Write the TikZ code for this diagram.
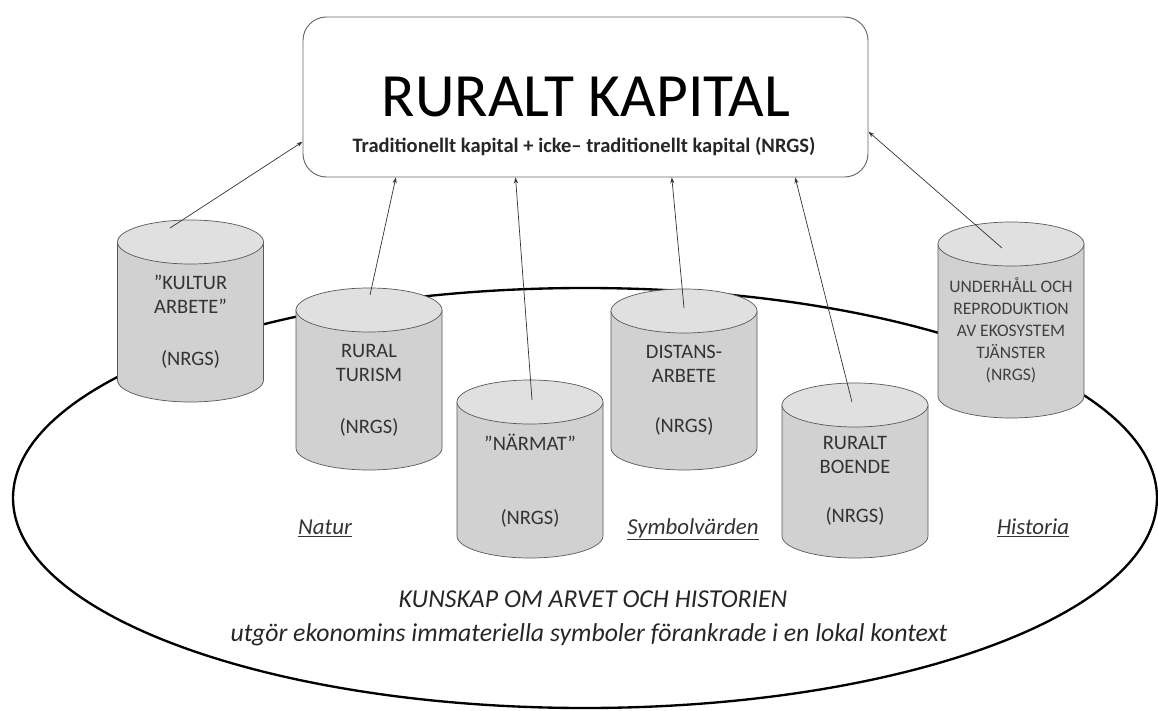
\documentclass[tikz,border=0pt]{standalone}
\usepackage{fontspec}
\setmainfont{Carlito}
\usetikzlibrary{arrows.meta}

\definecolor{tunnagra}{gray}{0.82}
\definecolor{tunnaljus}{gray}{0.88}

\tikzset{
  kapbox/.style={draw=black!60, line width=0.8pt, rounded corners=20pt,
    minimum width=16.95cm, minimum height=4.8cm, inner sep=0pt},
  tunnatext/.style={align=center, text=black!80, font=\fontsize{17.5}{20.4}\selectfont},
  smaltext/.style={align=center, text=black!75, font=\fontsize{15}{18.7}\selectfont},
  omrade/.style={anchor=base, text=black!80, font=\itshape\fontsize{19.5}{22}\selectfont},
  kunskap/.style={anchor=base, text=black!85, font=\itshape\fontsize{22}{24}\selectfont},
  pil/.style={->, draw=black!80, line width=0.6pt},
  oval/.style={draw=black, line width=2pt}
}

% tunna: x, top y, bottom y
\newcommand{\tunna}[3]{%
  \filldraw[fill=tunnagra, draw=black!65, line width=0.6pt]
    (#1-73,#2) -- (#1-73,#3) arc[start angle=180, end angle=0, x radius=73, y radius=22]
    -- (#1+73,#2) -- cycle;
  \filldraw[fill=tunnaljus, draw=black!65, line width=0.6pt]
    (#1,#2) ellipse[x radius=73, y radius=22];
}

\begin{document}
\begin{tikzpicture}[x=0.03cm, y=-0.03cm, >={Stealth[length=5pt,width=3.5pt]}]
\useasboundingbox (0,0) rectangle (1158,711);

% the big oval
\draw[oval] (585,498) ellipse[x radius=572, y radius=210];

% top box
\node[kapbox] (kap) at (585.5,97) {};
\node[anchor=base, font=\fontsize{52.5}{56}\selectfont] (titel) at (586,117) {RURALT KAPITAL};
\node[anchor=base, font=\bfseries\fontsize{17.5}{20}\selectfont, text=black!85] (under) at (584,153)
  {Traditionellt kapital + icke– traditionellt kapital (NRGS)};

% barrels
\tunna{190.5}{242}{380}
\tunna{369}{310}{448}
\tunna{530}{402}{536}
\tunna{684}{311}{448}
\tunna{855}{405}{536}
\tunna{1011}{244}{396}

\node[tunnatext] (kultur) at (190.5,322) {”KULTUR\\ARBETE”\\[24pt](NRGS)};
\node[tunnatext] (turism) at (369,390) {RURAL\\TURISM\\[24pt](NRGS)};
\node[tunnatext] (narmat) at (530,481) {”NÄRMAT”\\[43pt](NRGS)};
\node[tunnatext] (distans) at (684,390) {DISTANS-\\ARBETE\\[22pt](NRGS)};
\node[tunnatext] (boende) at (855,481) {RURALT\\BOENDE\\[22pt](NRGS)};
\node[smaltext] (ekosystem) at (1011,330) {UNDERHÅLL OCH\\REPRODUKTION\\AV EKOSYSTEM\\TJÄNSTER\\(NRGS)};

\coordinate (kultur-a) at (170,228);
\coordinate (turism-a) at (370,295);
\coordinate (narmat-a) at (532,400);
\coordinate (distans-a) at (684,308);
\coordinate (boende-a) at (852,402);
\coordinate (ekosystem-a) at (1002,248);

\draw[pil] (kultur-a) -- (kap.189);
\draw[pil] (turism-a) -- (kap.203);
\draw[pil] (narmat-a) -- (kap.229);
\draw[pil] (distans-a) -- (kap.317);
\draw[pil] (boende-a) -- (kap.339);
\draw[pil] (ekosystem-a) -- (kap.353);

% values in the oval
\node[omrade] (natur) at (325,534) {\underline{Natur}};
\node[omrade] (symbol) at (693,534) {\underline{Symbolvärden}};
\node[omrade] (historia) at (1033,534) {\underline{Historia}};

\node[kunskap] (arv) at (593,607) {KUNSKAP OM ARVET OCH HISTORIEN};
\node[kunskap] (kontext) at (589,641) {utgör ekonomins immateriella symboler förankrade i en lokal kontext};

\end{tikzpicture}
\end{document}
